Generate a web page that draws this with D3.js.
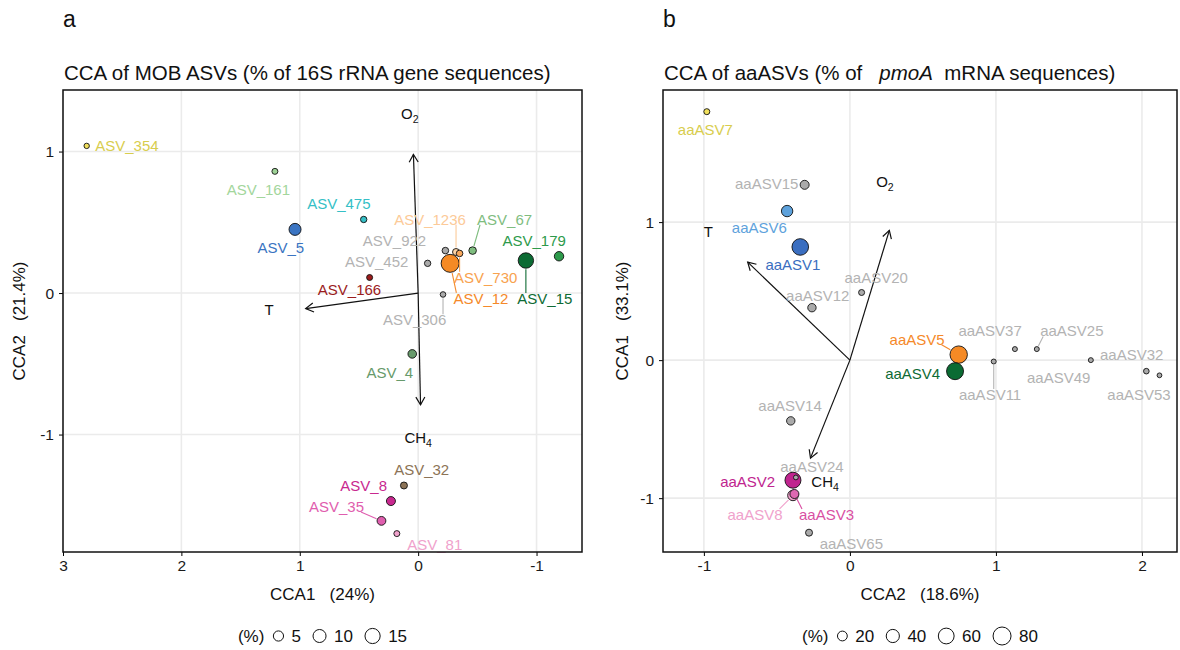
<!DOCTYPE html>
<html>
<head>
<meta charset="utf-8">
<script src="https://cdn.jsdelivr.net/npm/d3@7"></script>
<style>
    body { margin: 0; background: #fff; }
    svg { font-family: "Liberation Sans", Arial, sans-serif; }
</style>
</head>
<body>
<svg id="chart" width="1180" height="650"></svg>
<script>
"use strict";

/* Panel a: MOB ASVs (16S rRNA) */
var mobIds = ["ASV_354", "ASV_161", "ASV_475", "ASV_5", "ASV_922", "ASV_1236", "ASV_730", "ASV_67", "ASV_452", "ASV_12",
    "ASV_179", "ASV_15", "ASV_166", "ASV_306", "ASV_4", "ASV_32", "ASV_8", "ASV_35", "ASV_81"];
var mobCCA1 = [2.80, 1.21, 0.46, 1.04, -0.23, -0.32, -0.35, -0.46, -0.08, -0.27, -1.19, -0.91, 0.41, -0.21, 0.05, 0.12, 0.23, 0.31, 0.18];
var mobCCA2 = [1.04, 0.86, 0.52, 0.45, 0.30, 0.29, 0.28, 0.30, 0.21, 0.21, 0.26, 0.23, 0.11, -0.01, -0.43, -1.36, -1.47, -1.61, -1.70];
var mobPct = [0.44, 0.74, 0.98, 8.0, 1.1, 1.4, 1.1, 1.9, 0.98, 22.9, 3.9, 15.5, 0.74, 0.53, 2.9, 1.4, 3.4, 3.15, 0.74];
// repelled label positions (in CCA units)
var mobLabelCCA1 = [2.46, 1.35, 0.67, 1.16, 0.20, -0.10, -0.57, -0.73, 0.35, -0.53, -0.98, -1.07, 0.58, 0.03, 0.24, -0.03, 0.46, 0.69, -0.14];
var mobLabelCCA2 = [1.04, 0.73, 0.63, 0.32, 0.37, 0.52, 0.11, 0.52, 0.22, -0.04, 0.37, -0.04, 0.02, -0.19, -0.56, -1.25, -1.36, -1.51, -1.78];
var mobLeaders = ["ASV_1236", "ASV_730", "ASV_67", "ASV_12", "ASV_15", "ASV_306", "ASV_35"];

var mobEnv = ["O2", "T", "CH4"];
var mobEnvCCA1 = [0.04, 0.95, -0.02];
var mobEnvCCA2 = [0.98, -0.11, -0.79];
var mobEnvLabelCCA1 = [0.07, 1.26, 0.0];
var mobEnvLabelCCA2 = [1.27, -0.12, -1.02];

var mobXTicks = [3, 2, 1, 0, -1];
var mobYTicks = [-1, 0, 1];
var mobLegend = [5, 10, 15];

/* Panel b: aaASVs (pmoA mRNA) */
var aaIds = ["aaASV7", "aaASV15", "aaASV6", "aaASV1", "aaASV20", "aaASV12", "aaASV5", "aaASV4", "aaASV11", "aaASV37",
    "aaASV25", "aaASV49", "aaASV32", "aaASV53", "aaASV14", "aaASV2", "aaASV24", "aaASV8", "aaASV3", "aaASV65"];
var aaCCA2 = [-0.98, -0.31, -0.43, -0.34, 0.08, -0.26, 0.745, 0.72, 0.985, 1.13, 1.28, 1.65, 2.03, 2.12, -0.405, -0.39, -0.37, -0.39, -0.38, -0.28];
var aaCCA1 = [1.80, 1.27, 1.08, 0.82, 0.49, 0.38, 0.04, -0.08, -0.01, 0.08, 0.08, 0.0, -0.08, -0.11, -0.44, -0.87, -0.85, -0.98, -0.97, -1.25];
var aaPct = [5.8, 16.3, 28.5, 66.9, 5.8, 13.7, 74.2, 70.5, 3.4, 3.4, 3.4, 3.4, 4.8, 3.0, 13.7, 61.6, 3.0, 24, 16.3, 8.7];
var aaLabelCCA2 = [-0.99, -0.57, -0.62, -0.39, 0.18, -0.22, 0.46, 0.43, 0.96, 0.96, 1.52, 1.43, 1.93, 1.98, -0.41, -0.70, -0.26, -0.65, -0.16, 0.01];
var aaLabelCCA1 = [1.67, 1.28, 0.96, 0.69, 0.60, 0.47, 0.15, -0.10, -0.25, 0.21, 0.21, -0.13, 0.04, -0.25, -0.33, -0.88, -0.77, -1.12, -1.12, -1.33];
var aaLeaders = ["aaASV5", "aaASV11", "aaASV25", "aaASV8", "aaASV3"];

var aaEnv = ["O2", "T", "CH4"];
var aaEnvCCA2 = [0.27, -0.70, -0.27];
var aaEnvCCA1 = [0.94, 0.71, -0.71];
var aaEnvLabelCCA2 = [0.24, -0.97, -0.17];
var aaEnvLabelCCA1 = [1.29, 0.93, -0.88];

var aaXTicks = [-1, 0, 1, 2];
var aaYTicks = [-1, 0, 1];
var aaLegend = [20, 40, 60, 80];

/* colours (label, fill) per taxon */
var grey = ["#b3b3b3", "#aaaaaa"];
var mobColours = {
    "ASV_354": ["#d8cd4e", "#f1e05c"], "ASV_161": ["#a3d69c", "#9dd296"], "ASV_475": ["#35bfc6", "#35bfc6"],
    "ASV_5": ["#3a74c2", "#3a74c2"], "ASV_922": grey, "ASV_1236": ["#fcca98", "#fdd3a6"], "ASV_730": ["#f8a24e", "#f9a85c"],
    "ASV_67": ["#7fbd7f", "#7fbd7f"], "ASV_452": grey, "ASV_12": ["#f5892a", "#f58a25"], "ASV_179": ["#2d9a4b", "#2d9a4b"],
    "ASV_15": ["#0e6b34", "#0b6b33"], "ASV_166": ["#9b1c1c", "#9b1c1c"], "ASV_306": grey, "ASV_4": ["#679a6b", "#679a6b"],
    "ASV_32": ["#8c7356", "#8c7356"], "ASV_8": ["#c8288f", "#c8288f"], "ASV_35": ["#df5eae", "#df5eae"], "ASV_81": ["#f0a2cc", "#f0a2cc"]
};
var aaColours = {
    "aaASV7": ["#d8cd4e", "#f1e05c"], "aaASV6": ["#5ea2dc", "#5ea2dc"], "aaASV1": ["#3a6ec0", "#3a6ec0"],
    "aaASV5": ["#f5892a", "#f58a25"], "aaASV4": ["#0e6b34", "#0b6b33"], "aaASV2": ["#c0258f", "#c0258f"],
    "aaASV8": ["#f0a2cc", "#f0a2cc"], "aaASV3": ["#d94fa3", "#df68b2"]
};

var svg = d3.select("#chart");

function zip(ids, xs, ys, extra) {
    return ids.map(function (id, i) {
        var d = {id: id, x: xs[i], y: ys[i]};
        Object.keys(extra).forEach(function (k) { d[k] = extra[k][i]; });
        return d;
    });
}

function envLabel(sel, name) {
    var m = name.match(/^([A-Za-z]+?)(\d*)$/);
    sel.append("tspan").text(m[1]);
    if (m[2]) {
        sel.append("tspan").attr("font-size", 10.5).attr("dy", 4).text(m[2]);
    }
}

function drawPanel(p) {
    var x = d3.scaleLinear().domain(p.xDomain).range([p.left, p.right]),
        y = d3.scaleLinear().domain(p.yDomain).range([p.bottom, p.top]),
        r = d3.scaleSqrt().domain([0, p.sizeMax]).range(p.rRange),
        g = svg.append("g");

    // grid
    g.selectAll(".gx").data(p.xTicks).enter().append("line")
        .attr("x1", function (d) { return x(d); }).attr("x2", function (d) { return x(d); })
        .attr("y1", p.top).attr("y2", p.bottom)
        .attr("stroke", "#ebebeb").attr("stroke-width", 1.6);
    g.selectAll(".gy").data(p.yTicks).enter().append("line")
        .attr("y1", function (d) { return y(d); }).attr("y2", function (d) { return y(d); })
        .attr("x1", p.left).attr("x2", p.right)
        .attr("stroke", "#ebebeb").attr("stroke-width", 1.6);

    // axes
    g.append("g").attr("transform", "translate(0," + p.bottom + ")")
        .call(d3.axisBottom(x).tickValues(p.xTicks).tickSize(4).tickPadding(4).tickFormat(String))
        .attr("font-size", 15.5).attr("font-family", null)
        .call(function (a) { a.select(".domain").remove(); })
        .call(function (a) { a.selectAll("text").attr("fill", "#1a1a1a"); });
    g.append("g").attr("transform", "translate(" + p.left + ",0)")
        .call(d3.axisLeft(y).tickValues(p.yTicks).tickSize(4).tickPadding(5).tickFormat(String))
        .attr("font-size", 15.5).attr("font-family", null)
        .call(function (a) { a.select(".domain").remove(); })
        .call(function (a) { a.selectAll("text").attr("fill", "#1a1a1a"); });

    // environmental arrows
    var x0 = x(0), y0 = y(0);
    p.env.forEach(function (e) {
        var x1 = x(e.x), y1 = y(e.y),
            ang = Math.atan2(y1 - y0, x1 - x0),
            h = 9, w = Math.PI / 6;
        g.append("line").attr("x1", x0).attr("y1", y0).attr("x2", x1).attr("y2", y1)
            .attr("stroke", "#111").attr("stroke-width", 1.2);
        g.append("path")
            .attr("d", "M" + (x1 - h * Math.cos(ang - w)) + "," + (y1 - h * Math.sin(ang - w)) +
                "L" + x1 + "," + y1 +
                "L" + (x1 - h * Math.cos(ang + w)) + "," + (y1 - h * Math.sin(ang + w)))
            .attr("fill", "none").attr("stroke", "#111").attr("stroke-width", 1.2);
        g.append("text").attr("x", x(e.lx)).attr("y", y(e.ly)).attr("dy", "0.35em")
            .attr("text-anchor", "middle").attr("font-size", 15).attr("fill", "#111")
            .call(envLabel, e.id);
    });

    // points, big ones underneath
    var pts = p.points.slice().sort(function (a, b) { return b.pct - a.pct; });
    g.selectAll(".pt").data(pts).enter().append("circle")
        .attr("cx", function (d) { return x(d.x); })
        .attr("cy", function (d) { return y(d.y); })
        .attr("r", function (d) { return r(d.pct); })
        .attr("fill", function (d) { return (p.colours[d.id] || grey)[1]; })
        .attr("stroke", "#111").attr("stroke-width", 0.9);

    // labels and leader segments
    p.points.forEach(function (d) {
        var col = (p.colours[d.id] || grey)[0];
        var t = g.append("text").attr("x", x(d.lx)).attr("y", y(d.ly)).attr("dy", "0.35em")
            .attr("text-anchor", "middle").attr("font-size", 15).attr("fill", col).text(d.id);
        if (p.leaders.indexOf(d.id) >= 0) {
            var b = t.node().getBBox(),
                px = x(d.x), py = y(d.y),
                ex = Math.max(b.x + 3, Math.min(px, b.x + b.width - 3)),
                ey = Math.max(b.y + 3, Math.min(py, b.y + b.height - 3)),
                dist = Math.hypot(px - ex, py - ey),
                rr = r(d.pct) + 1;
            if (dist > rr + 2) {
                g.append("line").attr("x1", ex).attr("y1", ey)
                    .attr("x2", px + (ex - px) * rr / dist).attr("y2", py + (ey - py) * rr / dist)
                    .attr("stroke", col).attr("stroke-width", 1.1);
            }
        }
    });

    // frame
    g.append("rect").attr("x", p.left).attr("y", p.top)
        .attr("width", p.right - p.left).attr("height", p.bottom - p.top)
        .attr("fill", "none").attr("stroke", "#111").attr("stroke-width", 1.5);

    // titles
    var cx = (p.left + p.right) / 2, cy = (p.top + p.bottom) / 2;
    svg.append("text").attr("x", p.left).attr("y", 27).attr("font-size", 23).attr("fill", "#111").text(p.letter);
    p.title(svg.append("text").attr("x", p.left + 1).attr("y", 80).attr("font-size", 20.5).attr("fill", "#111")
        .style("white-space", "pre"));
    svg.append("text").attr("x", cx).attr("y", 600).attr("text-anchor", "middle")
        .attr("font-size", 17).attr("fill", "#111").style("white-space", "pre").text(p.xTitle);
    svg.append("text").attr("transform", "translate(" + p.yTitleX + "," + cy + ") rotate(-90)")
        .attr("text-anchor", "middle").attr("font-size", 17).attr("fill", "#111")
        .style("white-space", "pre").text(p.yTitle);

    // size legend
    var lg = svg.append("g"), pos = 0, ly = 636;
    var head = lg.append("text").attr("x", pos).attr("y", ly).attr("dy", "0.35em")
        .attr("font-size", 17).attr("fill", "#111").text("(%)");
    pos += head.node().getComputedTextLength() + 9;
    p.legend.forEach(function (v) {
        var rad = r(v);
        lg.append("circle").attr("cx", pos + rad).attr("cy", ly).attr("r", rad)
            .attr("fill", "#fff").attr("stroke", "#111").attr("stroke-width", 1);
        pos += 2 * rad + 8;
        var t = lg.append("text").attr("x", pos).attr("y", ly).attr("dy", "0.35em")
            .attr("font-size", 17).attr("fill", "#111").text(v);
        pos += t.node().getComputedTextLength() + 12;
    });
    pos -= 12;
    lg.attr("transform", "translate(" + (cx - pos / 2) + ",0)");
}

function buildEnv(ids, xs, ys, lxs, lys) {
    return zip(ids, xs, ys, {lx: lxs, ly: lys});
}

drawPanel({
    letter: "a",
    left: 63, right: 582, top: 90, bottom: 552,
    xDomain: [3.0, -1.384], yDomain: [-1.83, 1.435],
    xTicks: mobXTicks, yTicks: mobYTicks,
    sizeMax: 15, rRange: [1.69, 7.6],
    points: zip(mobIds, mobCCA1, mobCCA2, {pct: mobPct, lx: mobLabelCCA1, ly: mobLabelCCA2}),
    env: buildEnv(mobEnv, mobEnvCCA1, mobEnvCCA2, mobEnvLabelCCA1, mobEnvLabelCCA2),
    colours: mobColours, leaders: mobLeaders, legend: mobLegend,
    xTitle: "CCA1   (24%)", yTitle: "CCA2   (21.4%)", yTitleX: 25,
    title: function (t) { t.text("CCA of MOB ASVs (% of 16S rRNA gene sequences)"); }
});

drawPanel({
    letter: "b",
    left: 663, right: 1177, top: 90, bottom: 552,
    xDomain: [-1.28, 2.24], yDomain: [-1.39, 1.957],
    xTicks: aaXTicks, yTicks: aaYTicks,
    sizeMax: 80, rRange: [0.8, 9.0],
    points: zip(aaIds, aaCCA2, aaCCA1, {pct: aaPct, lx: aaLabelCCA2, ly: aaLabelCCA1}),
    env: buildEnv(aaEnv, aaEnvCCA2, aaEnvCCA1, aaEnvLabelCCA2, aaEnvLabelCCA1),
    colours: aaColours, leaders: aaLeaders, legend: aaLegend,
    xTitle: "CCA2   (18.6%)", yTitle: "CCA1   (33.1%)", yTitleX: 628,
    title: function (t) {
        t.append("tspan").text("CCA of aaASVs (% of   ");
        t.append("tspan").attr("font-style", "italic").text("pmoA");
        t.append("tspan").text("  mRNA sequences)");
    }
});
</script>
</body>
</html>
